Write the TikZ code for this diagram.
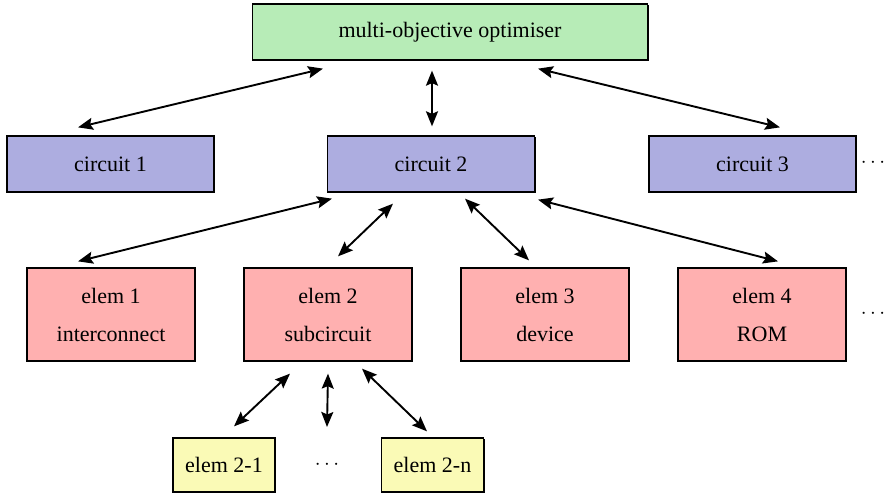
\documentclass[tikz,border=0pt]{standalone}
\usepackage{fontspec}
\setmainfont{Liberation Serif}
\usetikzlibrary{arrows.meta,shadows,calc}
\definecolor{OptGreen}{RGB}{183,236,183}
\definecolor{CircBlue}{RGB}{173,173,224}
\definecolor{ElemRed}{RGB}{255,176,176}
\definecolor{SubYellow}{RGB}{250,250,182}

\begin{document}
\begin{tikzpicture}[x=1pt,y=1pt,
    box/.style={draw=black, line width=1.3pt, inner sep=0pt, align=center,
        font=\fontsize{22}{38}\selectfont,
        drop shadow={shadow xshift=1pt, shadow yshift=-1pt, fill=black, opacity=1}},
    link/.style={line width=1.9pt, {Stealth[length=15pt,width=12pt,inset=2.5pt]}-{Stealth[length=15pt,width=12pt,inset=2.5pt]}},
    more/.style={font=\fontsize{22}{26}\selectfont}]
                \useasboundingbox (0,0) rectangle (888,-494);

                % optimiser and circuits
                \node[box, fill=OptGreen, minimum width=395, minimum height=56] (opt) at (450,-32) {multi-objective optimiser};
                \node[box, fill=CircBlue, minimum width=207, minimum height=56] (c1) at (110.5,-164) {circuit 1};
                \node[box, fill=CircBlue, minimum width=207, minimum height=56] (c2) at (431,-164) {circuit 2};
                \node[box, fill=CircBlue, minimum width=207, minimum height=56] (c3) at (752.5,-164) {circuit 3};
                \node[more] (cdots) at (873,-163) {$\cdots$};

                % elements of circuit 2
                \node[box, fill=ElemRed, minimum width=168, minimum height=93] (e1) at (111,-314.5) {elem 1\\interconnect};
                \node[box, fill=ElemRed, minimum width=168, minimum height=93] (e2) at (328,-314.5) {elem 2\\subcircuit};
                \node[box, fill=ElemRed, minimum width=168, minimum height=93] (e3) at (545,-314.5) {elem 3\\device};
                \node[box, fill=ElemRed, minimum width=168, minimum height=93] (e4) at (762,-314.5) {elem 4\\ROM};
                \node[more] (edots) at (873,-314) {$\cdots$};

                % parts of the subcircuit
                \node[box, fill=SubYellow, minimum width=102, minimum height=54] (s1) at (224,-465) {elem 2-1};
                \node[box, fill=SubYellow, minimum width=102, minimum height=54] (sn) at (432.5,-465) {elem 2-n};
                \node[more] (sdots) at (327,-465) {$\cdots$};

                \draw[link] ($(opt.south)+(-127,-8)$) -- ($(c1.north)+(-32.5,8)$);
                \draw[link] ($(opt.south)+(-18,-10)$) -- ($(c2.north)+(1,9)$);
                \draw[link] ($(opt.south)+(88,-8)$) -- ($(c3.north)+(27.5,8)$);

                \draw[link] ($(c2.south)+(-99,-6)$) -- ($(e1.north)+(-33,6)$);
                \draw[link] ($(c2.south)+(-38,-11)$) -- ($(e2.north)+(10,11)$);
                \draw[link] ($(c2.south)+(34,-6)$) -- ($(e3.north)+(-16,7)$);
                \draw[link] ($(c2.south)+(107,-7)$) -- ($(e4.north)+(16,6)$);

                \draw[link] ($(e2.south)+(-38,-12)$) -- ($(s1.north)+(10,11)$);
                \draw[link] ($(e2.south)+(0,-12)$) -- ($(sdots)+(0,38)$);
                \draw[link] ($(e2.south)+(34,-7)$) -- ($(sn.north)+(-5.5,6)$);
\end{tikzpicture}
\end{document}
